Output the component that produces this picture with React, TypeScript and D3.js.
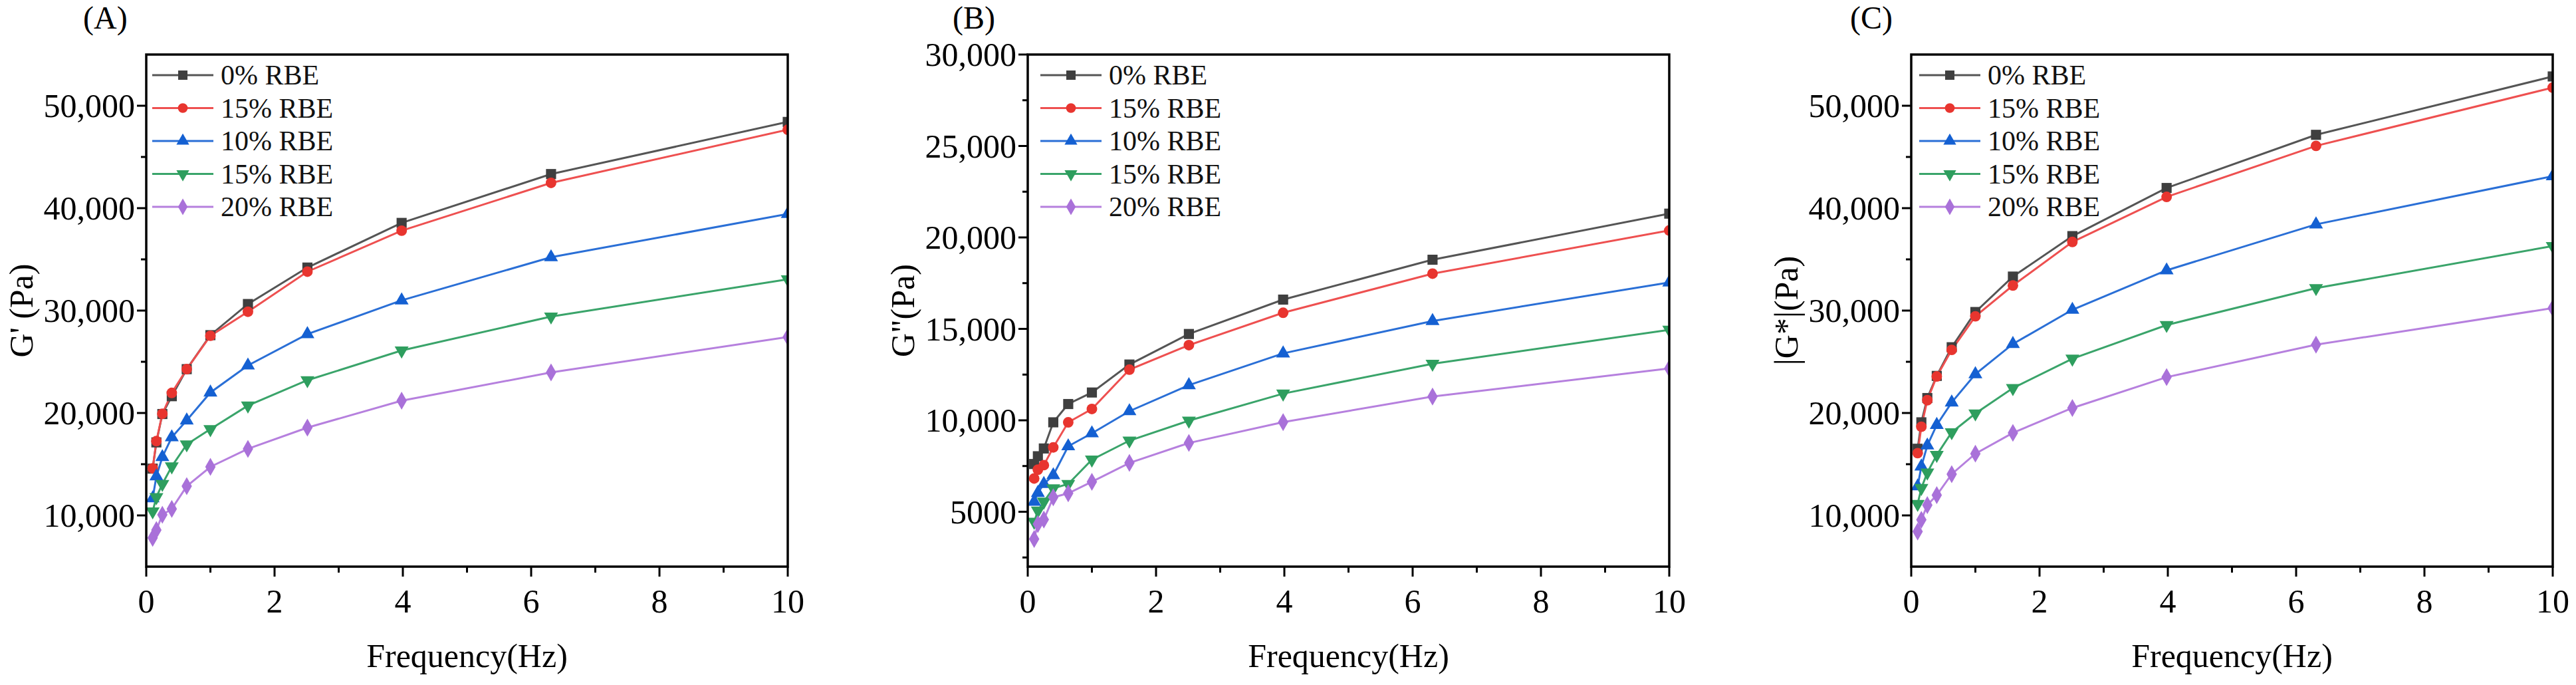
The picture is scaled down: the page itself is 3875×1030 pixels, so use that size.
import React from 'react';
import * as d3 from 'd3';

// ---------- data ----------
const freq = [0.1, 0.158, 0.251, 0.398, 0.631, 1, 1.585, 2.512, 3.981, 6.31, 10];
const seriesNames = ['0% RBE', '15% RBE', '10% RBE', '15% RBE', '20% RBE'];

// (A) storage modulus G'
const gp0 = [14570, 17130, 19900, 21640, 24280, 27600, 30640, 34200, 38560, 43330, 48420];
const gp15a = [14600, 17250, 19920, 21960, 24280, 27540, 29890, 33800, 37800, 42470, 47660];
const gp10 = [11670, 13810, 15700, 17630, 19280, 22000, 24640, 27700, 31000, 35210, 39430];
const gp15b = [10390, 11780, 13070, 14780, 16930, 18420, 20720, 23200, 26100, 29420, 33050];
const gp20 = [7810, 8570, 10060, 10640, 12850, 14740, 16500, 18570, 21200, 23960, 27420];

// (B) loss modulus G"
const gl0 = [7610, 8035, 8460, 9890, 10890, 11520, 13050, 14720, 16600, 18780, 21300];
const gl15a = [6820, 7300, 7550, 8520, 9890, 10620, 12770, 14110, 15880, 18020, 20380];
const gl10 = [5550, 6030, 6520, 7000, 8580, 9290, 10500, 11920, 13660, 15430, 17540];
const gl15b = [4450, 5060, 5550, 6280, 6520, 7850, 8890, 9980, 11460, 13090, 14950];
const gl20 = [3510, 4330, 4570, 5790, 6010, 6640, 7670, 8760, 9900, 11300, 12840];

// (C) complex modulus |G*|
const gc0 = [16510, 19090, 21460, 23620, 26420, 29860, 33320, 37270, 41970, 47160, 52860];
const gc15a = [16080, 18660, 21250, 23570, 26160, 29440, 32450, 36700, 41100, 46080, 51770];
const gc10 = [12840, 14780, 16830, 18840, 21030, 23790, 26740, 30080, 33930, 38420, 43120];
const gc15b = [11120, 12670, 14180, 15900, 18120, 19950, 22430, 25300, 28590, 32190, 36300];
const gc20 = [8430, 9570, 11010, 11980, 14030, 16030, 18060, 20490, 23500, 26670, 30240];

const xTicks = [0, 2, 4, 6, 8, 10];
const xMinorTicks = [1, 3, 5, 7, 9];

const yTicksAC = [10000, 20000, 30000, 40000, 50000];
const yTickLabelsAC = ['10,000', '20,000', '30,000', '40,000', '50,000'];
const yMinorAC = [15000, 25000, 35000, 45000];
const yTicksB = [5000, 10000, 15000, 20000, 25000, 30000];
const yTickLabelsB = ['5000', '10,000', '15,000', '20,000', '25,000', '30,000'];
const yMinorB = [2500, 7500, 12500, 17500, 22500, 27500];

const panelLetters = ['(A)', '(B)', '(C)'];
const yTitles = ["G' (Pa)", 'G"(Pa)', '|G*|(Pa)'];
const xTitle = 'Frequency(Hz)';

// ---------- style ----------
const lineColors = ['#555555', '#EE5050', '#2A6FD6', '#3AA46A', '#B680DE'];
const markColors = ['#3f3f3f', '#E8352F', '#1460D2', '#2E9E5E', '#A971D9'];
const symbols = [d3.symbolSquare, d3.symbolCircle, d3.symbolTriangle, d3.symbolTriangle, d3.symbolDiamond];
const symbolSizes = [230, 200, 190, 190, 210];
const symbolRot = [0, 0, 0, 180, 0];

const FONT = '"Liberation Serif", "Times New Roman", serif';
const TOP = 82;
const BOTTOM = 852;
const PLOT_W = 965;
const LEFTS = [220, 1546, 2875];
const LABEL_DX = [-95, -113, -92];
const LEGEND_DX = [9, 19, 12];

const panels = [
  { series: [gp0, gp15a, gp10, gp15b, gp20], domain: [5000, 55000], ticks: yTicksAC, labels: yTickLabelsAC, minor: yMinorAC },
  { series: [gl0, gl15a, gl10, gl15b, gl20], domain: [2000, 30000], ticks: yTicksB, labels: yTickLabelsB, minor: yMinorB },
  { series: [gc0, gc15a, gc10, gc15b, gc20], domain: [5000, 55000], ticks: yTicksAC, labels: yTickLabelsAC, minor: yMinorAC },
];

function Panel({ idx }: { idx: number }) {
  const p = panels[idx];
  const x0 = LEFTS[idx];
  const x = d3.scaleLinear().domain([0, 10]).range([x0, x0 + PLOT_W]);
  const y = d3.scaleLinear().domain(p.domain).range([BOTTOM, TOP]);
  const line = d3
    .line<number>()
    .x((_, i) => x(freq[i]))
    .y((d) => y(d));
  const clipId = `clip-${idx}`;
  const legendRowY = [113, 162.5, 212, 261.5, 311];
  const lx1 = x0 + LEGEND_DX[idx];
  const lx2 = lx1 + 92;
  return (
    <g>
      <defs>
        <clipPath id={clipId}>
          <rect x={x0} y={TOP} width={PLOT_W} height={BOTTOM - TOP} />
        </clipPath>
      </defs>
      <g clipPath={`url(#${clipId})`}>
        {p.series.map((s, si) => (
          <path key={`l${si}`} d={line(s) || ''} fill="none" stroke={lineColors[si]} strokeWidth={3} />
        ))}
        {p.series.map((s, si) =>
          s.map((v, i) => (
            <path
              key={`m${si}-${i}`}
              d={d3.symbol(symbols[si], symbolSizes[si])() || ''}
              transform={`translate(${x(freq[i])},${y(v)}) rotate(${symbolRot[si]})`}
              fill={markColors[si]}
            />
          ))
        )}
      </g>
      {/* frame */}
      <rect x={x0} y={TOP} width={PLOT_W} height={BOTTOM - TOP} fill="none" stroke="#000" strokeWidth={3.5} />
      {/* x ticks */}
      {xTicks.map((t) => (
        <g key={`xt${t}`}>
          <line x1={x(t)} x2={x(t)} y1={BOTTOM} y2={BOTTOM + 15} stroke="#000" strokeWidth={3} />
          <text x={x(t)} y={921} textAnchor="middle" fontSize={50} fontFamily={FONT} fill="#000">
            {t}
          </text>
        </g>
      ))}
      {xMinorTicks.map((t) => (
        <line key={`xm${t}`} x1={x(t)} x2={x(t)} y1={BOTTOM} y2={BOTTOM + 9} stroke="#000" strokeWidth={3} />
      ))}
      {/* y ticks */}
      {p.ticks.map((t, i) => (
        <g key={`yt${t}`}>
          <line x1={x0 - 14} x2={x0} y1={y(t)} y2={y(t)} stroke="#000" strokeWidth={3} />
          <text x={x0 - 17} y={y(t) + 17} textAnchor="end" fontSize={50} fontFamily={FONT} fill="#000">
            {p.labels[i]}
          </text>
        </g>
      ))}
      {p.minor.map((t) => (
        <line key={`ym${t}`} x1={x0 - 8} x2={x0} y1={y(t)} y2={y(t)} stroke="#000" strokeWidth={3} />
      ))}
      {/* titles */}
      <text x={x0 + PLOT_W / 2} y={1003} textAnchor="middle" fontSize={50} fontFamily={FONT} fill="#000">
        {xTitle}
      </text>
      <text
        transform={`translate(${x0 - 171},${(TOP + BOTTOM) / 2}) rotate(-90)`}
        textAnchor="middle"
        fontSize={50}
        fontFamily={FONT}
        fill="#000"
      >
        {yTitles[idx]}
      </text>
      <text x={x0 + LABEL_DX[idx]} y={43} fontSize={48} fontFamily={FONT} fill="#000">
        {panelLetters[idx]}
      </text>
      {/* legend */}
      {seriesNames.map((n, si) => (
        <g key={`lg${si}`}>
          <line x1={lx1} x2={lx2} y1={legendRowY[si]} y2={legendRowY[si]} stroke={lineColors[si]} strokeWidth={3} />
          <path
            d={d3.symbol(symbols[si], symbolSizes[si] * 0.85)() || ''}
            transform={`translate(${(lx1 + lx2) / 2},${legendRowY[si]}) rotate(${symbolRot[si]})`}
            fill={markColors[si]}
          />
          <text x={lx2 + 11} y={legendRowY[si] + 14} fontSize={42} fontFamily={FONT} fill="#111">
            {n}
          </text>
        </g>
      ))}
    </g>
  );
}

export default function App() {
  return (
    <svg
      width={3875}
      height={1030}
      viewBox="0 0 3875 1030"
      style={{ position: 'absolute', left: 0, top: 0, background: '#fff' }}
    >
      <rect x={0} y={0} width={3875} height={1030} fill="#fff" />
      {[0, 1, 2].map((i) => (
        <Panel key={i} idx={i} />
      ))}
    </svg>
  );
}
